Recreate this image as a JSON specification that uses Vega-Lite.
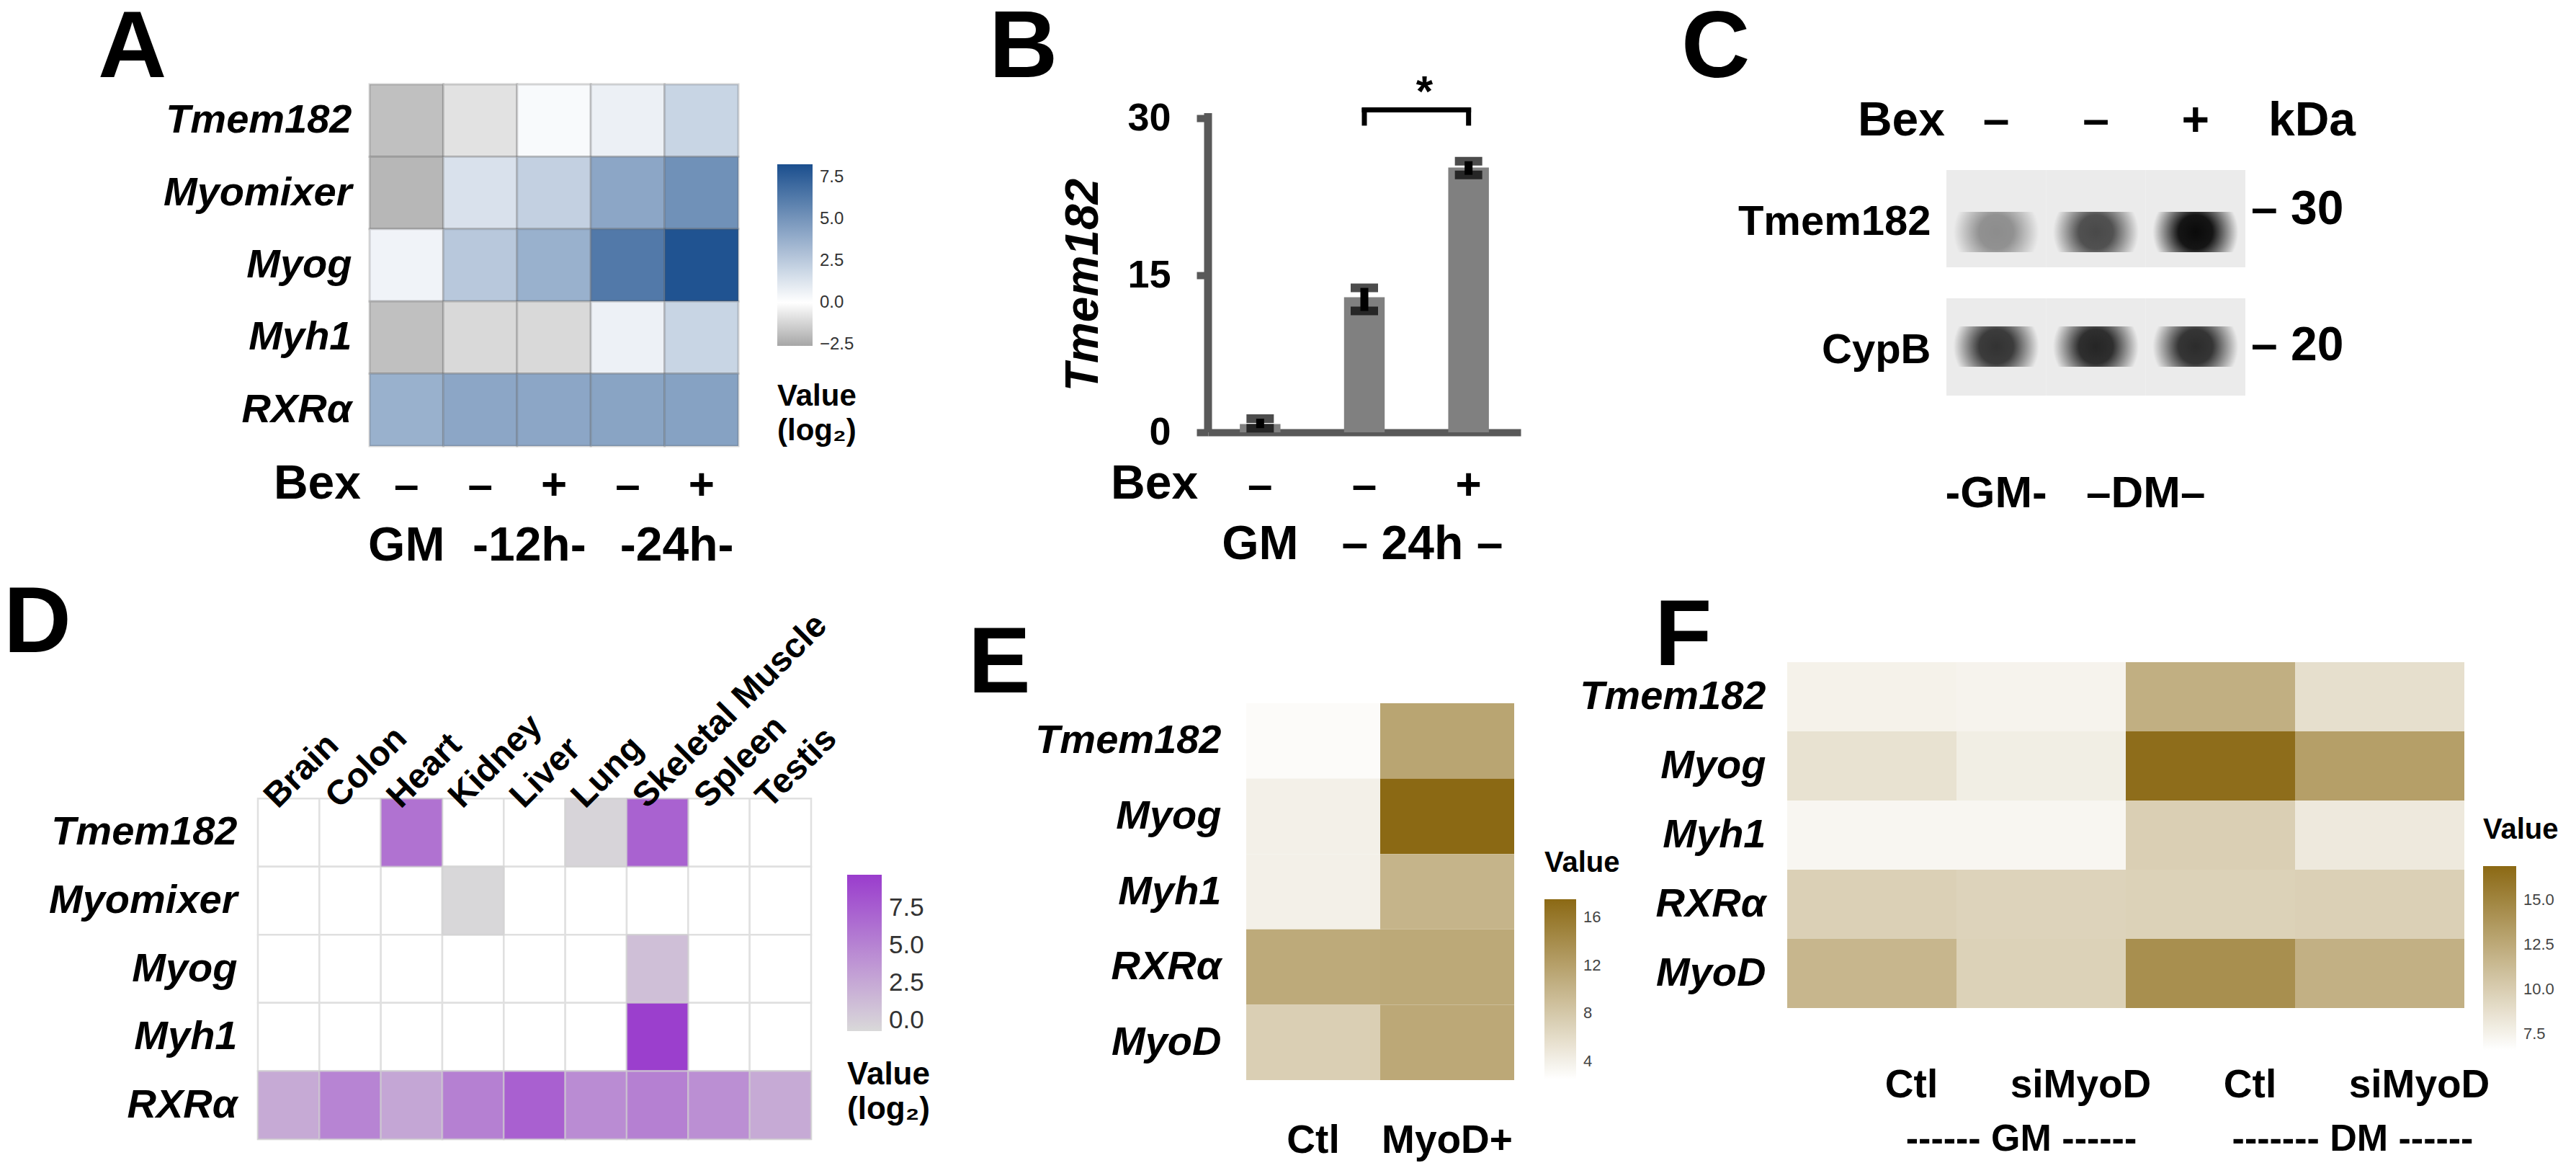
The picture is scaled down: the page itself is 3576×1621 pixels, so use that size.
{
  "$schema": "https://vega.github.io/schema/vega-lite/v6.json",
  "background": "white",
  "padding": {"left": 5, "top": 0, "right": 5, "bottom": 5},
  "config": {
    "font": "Liberation Sans",
    "view": {"stroke": null},
    "axis": {"labelColor": "black", "titleColor": "black", "grid": false, "labelLimit": 1000},
    "legend": {"labelColor": "#333333", "titleColor": "black", "labelOverlap": false}
  },
  "datasets": {
    "a": [
      {"gene":"Tmem182","cond":"GM","va":-1.85},{"gene":"Tmem182","cond":"12h–","va":-0.85},{"gene":"Tmem182","cond":"12h+","va":0.25},{"gene":"Tmem182","cond":"24h–","va":0.7},{"gene":"Tmem182","cond":"24h+","va":2.0},
      {"gene":"Myomixer","cond":"GM","va":-2.1},{"gene":"Myomixer","cond":"12h–","va":1.4},{"gene":"Myomixer","cond":"12h+","va":2.2},{"gene":"Myomixer","cond":"24h–","va":4.2},{"gene":"Myomixer","cond":"24h+","va":5.2},
      {"gene":"Myog","cond":"GM","va":0.55},{"gene":"Myog","cond":"12h–","va":2.6},{"gene":"Myog","cond":"12h+","va":3.7},{"gene":"Myog","cond":"24h–","va":6.3},{"gene":"Myog","cond":"24h+","va":8.1},
      {"gene":"Myh1","cond":"GM","va":-1.85},{"gene":"Myh1","cond":"12h–","va":-1.1},{"gene":"Myh1","cond":"12h+","va":-1.1},{"gene":"Myh1","cond":"24h–","va":0.65},{"gene":"Myh1","cond":"24h+","va":2.0},
      {"gene":"RXRα","cond":"GM","va":3.7},{"gene":"RXRα","cond":"12h–","va":4.2},{"gene":"RXRα","cond":"12h+","va":4.2},{"gene":"RXRα","cond":"24h–","va":4.3},{"gene":"RXRα","cond":"24h+","va":4.4}
    ],
    "b": [
      {"cond":"GM","mean":0.8,"lo":0.4,"hi":1.3},
      {"cond":"24h–","mean":12.9,"lo":11.6,"hi":13.8},
      {"cond":"24h+","mean":25.3,"lo":24.6,"hi":25.9}
    ],
    "c": [
      {"protein":"Tmem182","lane":"GM","inten":0.42},{"protein":"Tmem182","lane":"DM–","inten":0.72},{"protein":"Tmem182","lane":"DM+","inten":1.0},
      {"protein":"CypB","lane":"GM","inten":0.82},{"protein":"CypB","lane":"DM–","inten":0.88},{"protein":"CypB","lane":"DM+","inten":0.85}
    ],
    "d": [
      {"gene":"Tmem182","tissue":"Brain","vd":null},{"gene":"Tmem182","tissue":"Colon","vd":null},{"gene":"Tmem182","tissue":"Heart","vd":6.1},{"gene":"Tmem182","tissue":"Kidney","vd":null},{"gene":"Tmem182","tissue":"Liver","vd":null},{"gene":"Tmem182","tissue":"Lung","vd":-0.4},{"gene":"Tmem182","tissue":"Skeletal Muscle","vd":7.2},{"gene":"Tmem182","tissue":"Spleen","vd":null},{"gene":"Tmem182","tissue":"Testis","vd":null},
      {"gene":"Myomixer","tissue":"Brain","vd":null},{"gene":"Myomixer","tissue":"Colon","vd":null},{"gene":"Myomixer","tissue":"Heart","vd":null},{"gene":"Myomixer","tissue":"Kidney","vd":-0.6},{"gene":"Myomixer","tissue":"Liver","vd":null},{"gene":"Myomixer","tissue":"Lung","vd":null},{"gene":"Myomixer","tissue":"Skeletal Muscle","vd":null},{"gene":"Myomixer","tissue":"Spleen","vd":null},{"gene":"Myomixer","tissue":"Testis","vd":null},
      {"gene":"Myog","tissue":"Brain","vd":null},{"gene":"Myog","tissue":"Colon","vd":null},{"gene":"Myog","tissue":"Heart","vd":null},{"gene":"Myog","tissue":"Kidney","vd":null},{"gene":"Myog","tissue":"Liver","vd":null},{"gene":"Myog","tissue":"Lung","vd":null},{"gene":"Myog","tissue":"Skeletal Muscle","vd":1.0},{"gene":"Myog","tissue":"Spleen","vd":null},{"gene":"Myog","tissue":"Testis","vd":null},
      {"gene":"Myh1","tissue":"Brain","vd":null},{"gene":"Myh1","tissue":"Colon","vd":null},{"gene":"Myh1","tissue":"Heart","vd":null},{"gene":"Myh1","tissue":"Kidney","vd":null},{"gene":"Myh1","tissue":"Liver","vd":null},{"gene":"Myh1","tissue":"Lung","vd":null},{"gene":"Myh1","tissue":"Skeletal Muscle","vd":9.5},{"gene":"Myh1","tissue":"Spleen","vd":null},{"gene":"Myh1","tissue":"Testis","vd":null},
      {"gene":"RXRα","tissue":"Brain","vd":2.4},{"gene":"RXRα","tissue":"Colon","vd":4.9},{"gene":"RXRα","tissue":"Heart","vd":2.7},{"gene":"RXRα","tissue":"Kidney","vd":5.2},{"gene":"RXRα","tissue":"Liver","vd":7.3},{"gene":"RXRα","tissue":"Lung","vd":4.4},{"gene":"RXRα","tissue":"Skeletal Muscle","vd":5.2},{"gene":"RXRα","tissue":"Spleen","vd":4.2},{"gene":"RXRα","tissue":"Testis","vd":2.4}
    ],
    "e": [
      {"gene":"Tmem182","cond":"Ctl","ve":2.9},{"gene":"Tmem182","cond":"MyoD+","ve":11.5},
      {"gene":"Myog","cond":"Ctl","ve":4.0},{"gene":"Myog","cond":"MyoD+","ve":17.5},
      {"gene":"Myh1","cond":"Ctl","ve":4.0},{"gene":"Myh1","cond":"MyoD+","ve":10.0},
      {"gene":"RXRα","cond":"Ctl","ve":11.0},{"gene":"RXRα","cond":"MyoD+","ve":11.1},
      {"gene":"MyoD","cond":"Ctl","ve":7.3},{"gene":"MyoD","cond":"MyoD+","ve":11.2}
    ],
    "f": [
      {"gene":"Tmem182","cond":"GM Ctl","vf":7.5},{"gene":"Tmem182","cond":"GM siMyoD","vf":7.4},{"gene":"Tmem182","cond":"DM Ctl","vf":12.1},{"gene":"Tmem182","cond":"DM siMyoD","vf":8.8},
      {"gene":"Myog","cond":"GM Ctl","vf":8.6},{"gene":"Myog","cond":"GM siMyoD","vf":7.8},{"gene":"Myog","cond":"DM Ctl","vf":16.6},{"gene":"Myog","cond":"DM siMyoD","vf":13.2},
      {"gene":"Myh1","cond":"GM Ctl","vf":7.2},{"gene":"Myh1","cond":"GM siMyoD","vf":7.2},{"gene":"Myh1","cond":"DM Ctl","vf":9.9},{"gene":"Myh1","cond":"DM siMyoD","vf":8.1},
      {"gene":"RXRα","cond":"GM Ctl","vf":9.8},{"gene":"RXRα","cond":"GM siMyoD","vf":9.6},{"gene":"RXRα","cond":"DM Ctl","vf":9.7},{"gene":"RXRα","cond":"DM siMyoD","vf":9.8},
      {"gene":"MyoD","cond":"GM Ctl","vf":11.6},{"gene":"MyoD","cond":"GM siMyoD","vf":9.7},{"gene":"MyoD","cond":"DM Ctl","vf":14.3},{"gene":"MyoD","cond":"DM siMyoD","vf":12.0}
    ]
  },
  "concat": [
    {
      "width": 667, "height": 502,
      "layer": [
        {
          "data": {"name": "a"},
          "mark": {"type": "rect", "stroke": "#5a5a5a", "strokeOpacity": 0.25, "strokeWidth": 3},
          "encoding": {
            "x": {"field": "cond", "type": "nominal", "scale": {"domain": ["GM","12h–","12h+","24h–","24h+"], "paddingInner": 0, "paddingOuter": 0.757, "align": 1},
                  "axis": {"orient": "bottom", "title": null, "domain": false, "ticks": false, "tickSize": 0, "labelExpr": "indexof(datum.value,'+')>=0 ? '+' : '–'", "labelFontSize": 62, "labelFontWeight": "bold", "labelBaseline": "alphabetic", "labelPadding": 73, "labelAngle": 0}},
            "y": {"field": "gene", "type": "nominal", "scale": {"domain": ["Tmem182","Myomixer","Myog","Myh1","RXRα"], "paddingInner": 0, "paddingOuter": 0},
                  "axis": {"title": null, "domain": false, "ticks": false, "tickSize": 0, "labelFontSize": 56, "labelFontStyle": "italic", "labelFontWeight": "bold", "labelPadding": -130}},
            "color": {"field": "va", "type": "quantitative",
                      "scale": {"domain": [-2.6, 0, 8.3], "range": ["#a6a6a6", "#ffffff", "#1b4f8e"], "interpolate": "rgb"},
                      "legend": {"orient": "none", "legendX": 721, "legendY": 111, "direction": "vertical", "gradientLength": 252, "gradientThickness": 49, "gradientStrokeWidth": 0, "values": [-2.5, 0, 2.5, 5, 7.5], "format": ".1f", "labelFontSize": 24, "labelOffset": 10, "title": ["Value", "(log₂)"], "titleOrient": "bottom", "titleFontSize": 42, "titleFontWeight": "bold", "titlePadding": 40, "titleLineHeight": 48, "titleLimit": 400}}
          }
        },
        {"data": {"values": [{}]}, "mark": {"type": "text", "text": "Bex", "fontSize": 66, "fontWeight": "bold", "align": "right", "baseline": "alphabetic", "dx": -12, "dy": 73},
         "encoding": {"x": {"datum": "GM", "bandPosition": 0}, "y": {"datum": "RXRα", "bandPosition": 1}}},
        {"data": {"values": [{}]}, "mark": {"type": "text", "text": "GM", "fontSize": 66, "fontWeight": "bold", "align": "center", "baseline": "alphabetic", "dy": 159},
         "encoding": {"x": {"datum": "GM", "bandPosition": 0.5}, "y": {"datum": "RXRα", "bandPosition": 1}}},
        {"data": {"values": [{}]}, "mark": {"type": "text", "text": "-12h-", "fontSize": 66, "fontWeight": "bold", "align": "center", "baseline": "alphabetic", "dx": 17, "dy": 159},
         "encoding": {"x": {"datum": "12h+", "bandPosition": 0}, "y": {"datum": "RXRα", "bandPosition": 1}}},
        {"data": {"values": [{}]}, "mark": {"type": "text", "text": "-24h-", "fontSize": 66, "fontWeight": "bold", "align": "center", "baseline": "alphabetic", "dx": 17, "dy": 159},
         "encoding": {"x": {"datum": "24h+", "bandPosition": 0}, "y": {"datum": "RXRα", "bandPosition": 1}}},
        {"data": {"values": [{}]}, "mark": {"type": "text", "text": "A", "fontSize": 132, "fontWeight": "bold", "align": "left", "baseline": "alphabetic", "dx": -377, "dy": -10},
         "encoding": {"x": {"datum": "GM", "bandPosition": 0}, "y": {"datum": "Tmem182", "bandPosition": 0}}}
      ]
    },
    {"data": {"values": [{}]}, "mark": {"type": "text", "text": ""}, "encoding": {}, "width": 551, "height": 1},
    {
      "width": 434, "height": 483,
      "layer": [
        {
          "data": {"name": "b"},
          "mark": {"type": "bar", "color": "#808080"},
          "encoding": {
            "x": {"field": "cond", "type": "nominal", "scale": {"domain": ["GM","24h–","24h+"], "paddingInner": 0.61, "paddingOuter": 0.305},
                  "axis": {"orient": "bottom", "title": null, "ticks": false, "tickSize": 0, "labelExpr": "indexof(datum.value,'+')>=0 ? '+' : '–'", "labelFontSize": 62, "labelFontWeight": "bold", "labelBaseline": "alphabetic", "labelPadding": 92, "labelAngle": 0, "domainColor": "#595959", "domainWidth": 10}},
            "y": {"field": "mean", "type": "quantitative", "scale": {"domain": [0, 33.25], "nice": false, "zero": true},
                  "axis": {"values": [0, 15, 30], "title": "Tmem182", "titleFontSize": 64, "titleFontStyle": "italic", "titleFontWeight": "bold", "titlePadding": 28, "titleY": 278, "labelFontSize": 54, "labelFontWeight": "bold", "labelPadding": 36, "tickSize": 16, "tickWidth": 10, "tickColor": "#595959", "domain": false}}
          }
        },
        {"data": {"values": [{}]}, "mark": {"type": "rule", "color": "#595959", "strokeWidth": 11},
         "encoding": {"x": {"datum": "GM", "bandPosition": -0.782}, "y": {"datum": 0}, "y2": {"datum": 30.5}}},
        {"data": {"name": "b"}, "mark": {"type": "rule", "color": "black", "strokeWidth": 11},
         "encoding": {"x": {"field": "cond", "type": "nominal"}, "y": {"field": "lo", "type": "quantitative"}, "y2": {"field": "hi"}}},
        {"data": {"name": "b"}, "mark": {"type": "tick", "color": "black", "thickness": 12, "size": 38, "orient": "horizontal"},
         "encoding": {"x": {"field": "cond", "type": "nominal"}, "y": {"field": "lo", "type": "quantitative"}}},
        {"data": {"name": "b"}, "mark": {"type": "tick", "color": "black", "thickness": 12, "size": 38, "orient": "horizontal"},
         "encoding": {"x": {"field": "cond", "type": "nominal"}, "y": {"field": "hi", "type": "quantitative"}}},
        {"data": {"values": [{"cond": "24h–"}, {"cond": "24h+"}]}, "mark": {"type": "rule", "color": "black", "strokeWidth": 7},
         "encoding": {"x": {"field": "cond", "type": "nominal"}, "y": {"datum": 29.3}, "y2": {"datum": 31.0}}},
        {"data": {"values": [{"cond": "24h–"}, {"cond": "24h+"}]}, "mark": {"type": "line", "color": "black", "strokeWidth": 7, "strokeCap": "square"},
         "encoding": {"x": {"field": "cond", "type": "nominal"}, "y": {"datum": 30.8}}},
        {"data": {"values": [{}]}, "mark": {"type": "text", "text": "*", "fontSize": 60, "fontWeight": "bold", "align": "center", "baseline": "alphabetic", "dx": -33, "dy": -6},
         "encoding": {"x": {"datum": "24h+", "bandPosition": 0}, "y": {"datum": 30.8}}},
        {"data": {"values": [{}]}, "mark": {"type": "text", "text": "Bex", "fontSize": 66, "fontWeight": "bold", "align": "right", "baseline": "alphabetic", "dx": -58, "dy": 92},
         "encoding": {"x": {"datum": "GM", "bandPosition": 0}, "y": {"datum": 0}}},
        {"data": {"values": [{}]}, "mark": {"type": "text", "text": "GM", "fontSize": 66, "fontWeight": "bold", "align": "center", "baseline": "alphabetic", "dy": 176},
         "encoding": {"x": {"datum": "GM", "bandPosition": 0.5}, "y": {"datum": 0}}},
        {"data": {"values": [{}]}, "mark": {"type": "text", "text": "– 24h –", "fontSize": 66, "fontWeight": "bold", "align": "center", "baseline": "alphabetic", "dx": -36, "dy": 176},
         "encoding": {"x": {"datum": "24h+", "bandPosition": 0}, "y": {"datum": 0}}},
        {"data": {"values": [{}]}, "mark": {"type": "text", "text": "B", "fontSize": 132, "fontWeight": "bold", "align": "left", "baseline": "alphabetic", "dx": -348, "dy": -50},
         "encoding": {"x": {"datum": "GM", "bandPosition": 0}, "y": {"datum": 30.5}}}
      ]
    },
    {"data": {"values": [{}]}, "mark": {"type": "text", "text": ""}, "encoding": {}, "width": 370, "height": 1},
    {
      "width": 636, "height": 432,
      "layer": [
        {
          "layer": [
            {
              "data": {"name": "c"},
              "mark": {"type": "rect", "fill": "#ebebeb"},
              "encoding": {
                "x": {"field": "lane", "type": "nominal", "scale": {"domain": ["GM","DM–","DM+"], "paddingInner": 0, "paddingOuter": 0.7988, "align": 1},
                      "axis": {"orient": "top", "title": null, "domain": false, "ticks": false, "tickSize": 0, "labelExpr": "indexof(datum.value,'+')>=0 ? '+' : '–'", "labelFontSize": 66, "labelFontWeight": "bold", "labelBaseline": "alphabetic", "labelPadding": -70, "labelAngle": 0}},
                "y": {"field": "protein", "type": "nominal", "scale": {"domain": ["Tmem182","CypB"], "paddingInner": 0.2416, "paddingOuter": 0.334, "align": 1},
                      "axis": {"orient": "left", "title": null, "domain": false, "ticks": false, "tickSize": 0, "labelFontSize": 58, "labelFontWeight": "bold", "labelPadding": -199, "labelOffset": 6}}
              }
            },
            {"data": {"values": [{}]}, "mark": {"type": "text", "text": "Bex", "fontSize": 66, "fontWeight": "bold", "align": "right", "baseline": "alphabetic", "dx": -2, "dy": -48},
             "encoding": {"x": {"datum": "GM", "bandPosition": 0}, "y": {"datum": "Tmem182", "bandPosition": 0}}},
            {"data": {"values": [{}]}, "mark": {"type": "text", "text": "kDa", "fontSize": 66, "fontWeight": "bold", "align": "left", "baseline": "alphabetic", "dx": 32, "dy": -48},
             "encoding": {"x": {"datum": "DM+", "bandPosition": 1}, "y": {"datum": "Tmem182", "bandPosition": 0}}},
            {"data": {"values": [{}]}, "mark": {"type": "text", "text": "– 30", "fontSize": 66, "fontWeight": "bold", "align": "left", "baseline": "alphabetic", "dx": 8, "dy": 8},
             "encoding": {"x": {"datum": "DM+", "bandPosition": 1}, "y": {"datum": "Tmem182", "bandPosition": 0.5}}},
            {"data": {"values": [{}]}, "mark": {"type": "text", "text": "– 20", "fontSize": 66, "fontWeight": "bold", "align": "left", "baseline": "alphabetic", "dx": 8, "dy": 19},
             "encoding": {"x": {"datum": "DM+", "bandPosition": 1}, "y": {"datum": "CypB", "bandPosition": 0.5}}},
            {"data": {"values": [{}]}, "mark": {"type": "text", "text": "-GM-", "fontSize": 62, "fontWeight": "bold", "align": "center", "baseline": "alphabetic", "dy": 155},
             "encoding": {"x": {"datum": "GM", "bandPosition": 0.5}, "y": {"datum": "CypB", "bandPosition": 1}}},
            {"data": {"values": [{}]}, "mark": {"type": "text", "text": "–DM–", "fontSize": 62, "fontWeight": "bold", "align": "center", "baseline": "alphabetic", "dy": 155},
             "encoding": {"x": {"datum": "DM+", "bandPosition": 0}, "y": {"datum": "CypB", "bandPosition": 1}}},
            {"data": {"values": [{}]}, "mark": {"type": "text", "text": "C", "fontSize": 132, "fontWeight": "bold", "align": "left", "baseline": "alphabetic", "dx": -368, "dy": -129},
             "encoding": {"x": {"datum": "GM", "bandPosition": 0}, "y": {"datum": "Tmem182", "bandPosition": 0}}}
          ]
        },
        {
          "data": {"name": "c"},
          "mark": {"type": "rect", "width": {"band": 0.86},
                   "fill": {"gradient": "radial", "x1": 0.5, "y1": 0.5, "r1": 0, "x2": 0.5, "y2": 0.5, "r2": 0.5,
                            "stops": [{"offset": 0, "color": "#0a0a0a"}, {"offset": 0.4, "color": "#151515"}, {"offset": 1, "color": "#ebebeb"}]}},
          "encoding": {
            "x": {"field": "lane", "type": "nominal"},
            "y": {"field": "protein", "type": "nominal", "scale": {"domain": ["Tmem182","CypB"], "paddingInner": 0.648, "paddingOuter": 0.6816, "align": 0.816}, "axis": null},
            "opacity": {"field": "inten", "type": "quantitative", "scale": {"domain": [0, 1], "range": [0, 1]}, "legend": null}
          }
        }
      ],
      "resolve": {"scale": {"y": "independent"}, "axis": {"y": "independent"}}
    },
    {
      "width": 768, "height": 662,
      "layer": [
        {
          "data": {"name": "d"},
          "mark": {"type": "rect", "fill": "white", "stroke": "#e0e0e0", "strokeWidth": 2.5},
          "encoding": {
            "x": {"field": "tissue", "type": "nominal", "scale": {"domain": ["Brain","Colon","Heart","Kidney","Liver","Lung","Skeletal Muscle","Spleen","Testis"], "paddingInner": 0, "paddingOuter": 0},
                  "axis": {"orient": "top", "title": null, "domain": false, "ticks": false, "tickSize": 0, "labelAngle": -45, "labelAlign": "left", "labelBaseline": "alphabetic", "labelFontSize": 48, "labelFontWeight": "bold", "labelPadding": -204, "labelOffset": -15}},
            "y": {"field": "gene", "type": "nominal", "scale": {"domain": ["Tmem182","Myomixer","Myog","Myh1","RXRα"], "paddingInner": 0, "paddingOuter": 1.4405, "align": 1},
                  "axis": {"title": null, "domain": false, "ticks": false, "tickSize": 0, "labelFontSize": 56, "labelFontStyle": "italic", "labelFontWeight": "bold", "labelPadding": 29}}
          }
        },
        {
          "data": {"name": "d"},
          "transform": [{"filter": "datum.vd != null"}],
          "mark": {"type": "rect", "stroke": "#d0d0d0", "strokeWidth": 2.5, "strokeOpacity": 0.6},
          "encoding": {
            "x": {"field": "tissue", "type": "nominal"},
            "y": {"field": "gene", "type": "nominal"},
            "color": {"field": "vd", "type": "quantitative",
                      "scale": {"domain": [-0.7, 9.7], "range": ["#d9d9d9", "#9a3ccd"], "interpolate": "rgb"},
                      "legend": {"orient": "none", "legendX": 818, "legendY": 295, "direction": "vertical", "gradientLength": 217, "gradientThickness": 48, "gradientStrokeWidth": 0, "values": [0, 2.5, 5, 7.5], "format": ".1f", "labelFontSize": 35, "labelOffset": 10, "title": ["Value", "(log₂)"], "titleOrient": "bottom", "titleFontSize": 44, "titleFontWeight": "bold", "titlePadding": 36, "titleLineHeight": 48, "titleLimit": 400}}
          }
        },
        {"data": {"values": [{}]}, "mark": {"type": "text", "text": "D", "fontSize": 130, "fontWeight": "bold", "align": "left", "baseline": "alphabetic", "dx": -353, "dy": -203},
         "encoding": {"x": {"datum": "Brain", "bandPosition": 0}, "y": {"datum": "Tmem182", "bandPosition": 0}}}
      ]
    },
    {"data": {"values": [{}]}, "mark": {"type": "text", "text": ""}, "encoding": {}, "width": 551, "height": 1},
    {
      "width": 425, "height": 580,
      "layer": [
        {
          "data": {"name": "e"},
          "mark": {"type": "rect"},
          "encoding": {
            "x": {"field": "cond", "type": "nominal", "scale": {"domain": ["Ctl","MyoD+"], "paddingInner": 0, "paddingOuter": 0.1425, "align": 1},
                  "axis": {"orient": "bottom", "title": null, "domain": false, "ticks": false, "tickSize": 0, "labelFontSize": 55, "labelFontWeight": "bold", "labelBaseline": "alphabetic", "labelPadding": 100, "labelAngle": 0}},
            "y": {"field": "gene", "type": "nominal", "scale": {"domain": ["Tmem182","Myog","Myh1","RXRα","MyoD"], "paddingInner": 0, "paddingOuter": 0.2725, "align": 1},
                  "axis": {"title": null, "domain": false, "ticks": false, "tickSize": 0, "labelFontSize": 56, "labelFontStyle": "italic", "labelFontWeight": "bold", "labelPadding": -18}},
            "color": {"field": "ve", "type": "quantitative",
                      "scale": {"domain": [2.5, 17.5], "range": ["#ffffff", "#8b6914"], "interpolate": "rgb"},
                      "legend": {"orient": "none", "legendX": 467, "legendY": 259, "direction": "vertical", "gradientLength": 250, "gradientThickness": 44, "gradientStrokeWidth": 0, "values": [4, 8, 12, 16], "labelFontSize": 22, "labelColor": "#444444", "labelOffset": 10, "title": "Value", "titleFontSize": 40, "titleFontWeight": "bold", "titlePadding": 30}}
          }
        },
        {"data": {"values": [{}]}, "mark": {"type": "text", "text": "E", "fontSize": 130, "fontWeight": "bold", "align": "left", "baseline": "alphabetic", "dx": -386, "dy": -15},
         "encoding": {"x": {"datum": "Ctl", "bandPosition": 0}, "y": {"datum": "Tmem182", "bandPosition": 0}}}
      ]
    },
    {"data": {"values": [{}]}, "mark": {"type": "text", "text": ""}, "encoding": {}, "width": 370, "height": 1},
    {
      "width": 940, "height": 480,
      "layer": [
        {
          "data": {"name": "f"},
          "mark": {"type": "rect"},
          "encoding": {
            "x": {"field": "cond", "type": "nominal", "scale": {"domain": ["GM Ctl","GM siMyoD","DM Ctl","DM siMyoD"], "paddingInner": 0, "paddingOuter": 0},
                  "axis": {"orient": "bottom", "title": null, "domain": false, "ticks": false, "tickSize": 0, "labelExpr": "split(datum.value,' ')[1]", "labelFontSize": 55, "labelFontWeight": "bold", "labelBaseline": "alphabetic", "labelPadding": 123, "labelOffset": 55, "labelAngle": 0}},
            "y": {"field": "gene", "type": "nominal", "scale": {"domain": ["Tmem182","Myog","Myh1","RXRα","MyoD"], "paddingInner": 0, "paddingOuter": 0},
                  "axis": {"title": null, "domain": false, "ticks": false, "tickSize": 0, "labelFontSize": 56, "labelFontStyle": "italic", "labelFontWeight": "bold", "labelPadding": 30}},
            "color": {"field": "vf", "type": "quantitative",
                      "scale": {"domain": [6.6, 16.9], "range": ["#ffffff", "#8b6914"], "interpolate": "rgb"},
                      "legend": {"orient": "none", "legendX": 966, "legendY": 213, "direction": "vertical", "gradientLength": 255, "gradientThickness": 46, "gradientStrokeWidth": 0, "values": [7.5, 10, 12.5, 15], "format": ".1f", "labelFontSize": 22, "labelColor": "#444444", "labelOffset": 10, "title": "Value", "titleFontSize": 40, "titleFontWeight": "bold", "titlePadding": 30}}
          }
        },
        {"data": {"values": [{}]}, "mark": {"type": "text", "text": "------ GM ------", "fontSize": 52, "fontWeight": "bold", "align": "center", "baseline": "alphabetic", "dx": 90, "dy": 198},
         "encoding": {"x": {"datum": "GM siMyoD", "bandPosition": 0}, "y": {"datum": "MyoD", "bandPosition": 1}}},
        {"data": {"values": [{}]}, "mark": {"type": "text", "text": "------- DM ------", "fontSize": 52, "fontWeight": "bold", "align": "center", "baseline": "alphabetic", "dx": 80, "dy": 198},
         "encoding": {"x": {"datum": "DM siMyoD", "bandPosition": 0}, "y": {"datum": "MyoD", "bandPosition": 1}}},
        {"data": {"values": [{}]}, "mark": {"type": "text", "text": "F", "fontSize": 130, "fontWeight": "bold", "align": "left", "baseline": "alphabetic", "dx": -184, "dy": 4},
         "encoding": {"x": {"datum": "GM Ctl", "bandPosition": 0}, "y": {"datum": "Tmem182", "bandPosition": 0}}}
      ]
    }
  ],
  "columns": 5,
  "spacing": {"row": 300, "column": 0},
  "align": "each",
  "bounds": "flush",
  "resolve": {"scale": {"color": "independent", "opacity": "independent"}}
}
